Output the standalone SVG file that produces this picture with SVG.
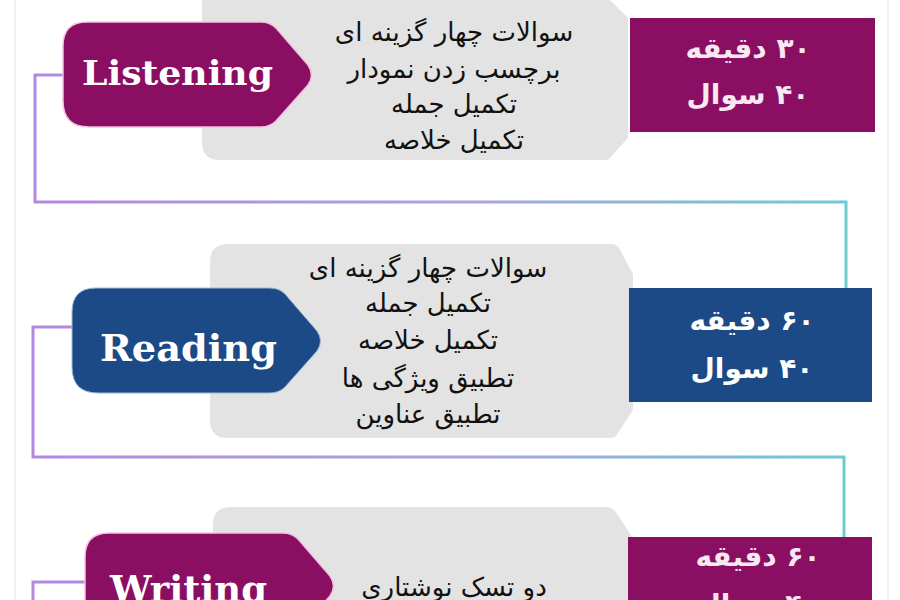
<svg xmlns="http://www.w3.org/2000/svg" width="900" height="600" viewBox="0 0 900 600">
<defs>
  <linearGradient id="lineGrad" gradientUnits="userSpaceOnUse" x1="30" y1="0" x2="850" y2="0">
    <stop offset="0" stop-color="#b488e0"/>
    <stop offset="0.55" stop-color="#a7a6dc"/>
    <stop offset="1" stop-color="#6ccbd3"/>
  </linearGradient>
  <path id="pill" d="M24,0 H198 Q207,0 213,6 L245,43 Q252,53 245,63 L213,99 Q207,105 198,105 H26 Q0,105 0,79 V24 Q0,0 24,0 Z"/>
  <style>
    .frame{stroke:#ececec;stroke-width:1.5;fill:none}
    .conn{fill:none;stroke:url(#lineGrad);stroke-width:3;stroke-linejoin:miter}
    .grey{fill:#e3e3e3}
    .purple{fill:#8a0f63}
    .blue{fill:#1c4a86}
    .pillP{fill:#8a0f63;stroke:#f2c2e2;stroke-width:1.5}
    .pillB{fill:#1c4a86;stroke:#9fb6d6;stroke-width:1}
    .lbl{font-family:'DejaVu Serif','Liberation Serif',serif;font-weight:bold;fill:#ffffff}
    .fa{font-family:'DejaVu Sans',sans-serif;fill:#111111;font-size:26px;text-anchor:middle;direction:rtl}
    .box{font-family:'DejaVu Sans',sans-serif;font-size:28px;text-anchor:middle;direction:rtl;font-weight:bold}
    .boxP{fill:#f7e8f2}
    .boxB{fill:#ffffff}
  </style>
</defs>
<rect width="900" height="600" fill="#ffffff"/>
<line class="frame" x1="15" y1="0" x2="15" y2="600"/>
<line class="frame" x1="888" y1="0" x2="888" y2="600"/>

<g id="connectors">
  <path class="conn" d="M63,75 H35 V202 H846 V289"/>
  <path class="conn" d="M72,327 H33 V457 H844 V538"/>
  <path class="conn" d="M85,582 H33 V600"/>
</g>

<g id="listening-details">
  <path class="grey" d="M202,-4 H606 L628,18 V138 L608,160 H220 Q202,160 202,142 Z"/>
  <text class="fa" x="454" y="41">سوالات چهار گزینه ای</text>
  <text class="fa" x="454" y="78">برچسب زدن نمودار</text>
  <text class="fa" x="454" y="113">تکمیل جمله</text>
  <text class="fa" x="454" y="149">تکمیل خلاصه</text>
</g>
<g id="listening">
  <use href="#pill" class="pillP" x="63" y="22"/>
  <text class="lbl" x="82" y="85" font-size="34" textLength="191" lengthAdjust="spacingAndGlyphs">Listening</text>
</g>
<g id="listening-time">
  <rect class="purple" x="630" y="18" width="245" height="114"/>
  <text class="box boxP" x="748" y="58">۳۰ دقیقه</text>
  <text class="box boxP" x="748" y="104">۴۰ سوال</text>
</g>

<g id="reading-details">
  <path class="grey" d="M228,244 H612 Q616,244 619,248 L633,274 V410 L616,436 Q614,438 610,438 H228 Q210,438 210,420 V262 Q210,244 228,244 Z"/>
  <text class="fa" x="428" y="277">سوالات چهار گزینه ای</text>
  <text class="fa" x="428" y="312">تکمیل جمله</text>
  <text class="fa" x="428" y="349">تکمیل خلاصه</text>
  <text class="fa" x="428" y="387">تطبیق ویژگی ها</text>
  <text class="fa" x="428" y="423">تطبیق عناوین</text>
</g>
<g id="reading">
  <use href="#pill" class="pillB" x="72" y="288"/>
  <text class="lbl" x="100" y="361" font-size="37" textLength="177" lengthAdjust="spacingAndGlyphs">Reading</text>
</g>
<g id="reading-time">
  <rect class="blue" x="629" y="288" width="243" height="114"/>
  <text class="box boxB" x="752" y="330">۶۰ دقیقه</text>
  <text class="box boxB" x="752" y="378">۴۰ سوال</text>
</g>

<g id="writing-details">
  <path class="grey" d="M231,507 H605 Q612,507 616,512 L634,540 V620 H213 V525 Q213,507 231,507 Z"/>
  <text class="fa" x="454" y="596" font-size="31">دو تسک نوشتاری</text>
</g>
<g id="writing">
  <use href="#pill" class="pillP" x="85" y="533"/>
  <text class="lbl" x="110" y="602" font-size="37" textLength="157" lengthAdjust="spacingAndGlyphs">Writing</text>
</g>
<g id="writing-time">
  <rect class="purple" x="628" y="537" width="244" height="100"/>
  <text class="box boxP" x="758" y="566">۶۰ دقیقه</text>
  <text class="box boxP" x="758" y="614">۴۰ سوال</text>
</g>
</svg>
